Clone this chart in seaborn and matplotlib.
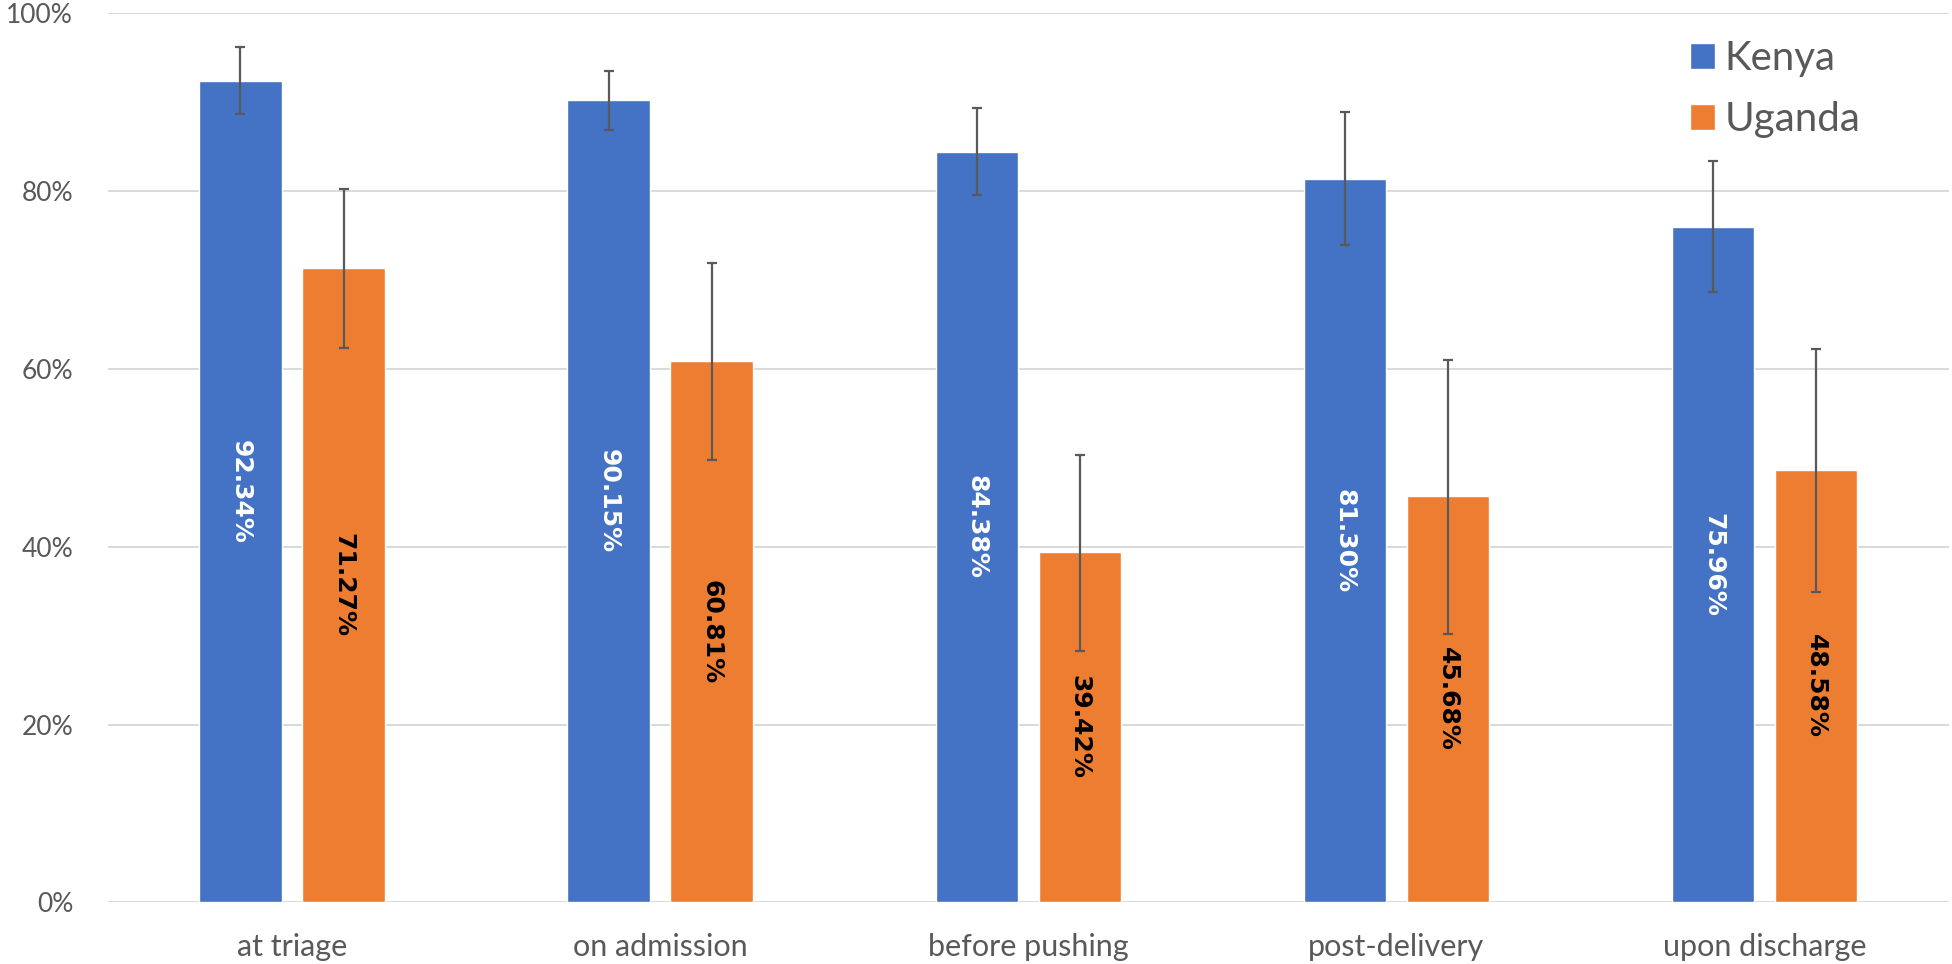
import matplotlib
matplotlib.use("Agg")
import matplotlib.pyplot as plt
import seaborn as sns
import pandas as pd
import numpy as np

stages = ["at triage", "on admission", "before pushing", "post-delivery", "upon discharge"]
countries = ["Kenya", "Uganda"]

kenya = [92.34, 90.15, 84.38, 81.30, 75.96]
kenya_lo = [88.6, 86.8, 79.5, 73.9, 68.65]
kenya_hi = [96.1, 93.5, 89.3, 88.8, 83.3]

uganda = [71.27, 60.81, 39.42, 45.68, 48.58]
uganda_lo = [62.3, 49.7, 28.3, 30.2, 34.9]
uganda_hi = [80.2, 71.9, 50.3, 61.0, 62.2]

colors = {"Kenya": "#4472C4", "Uganda": "#ED7D31"}
label_colors = {"Kenya": "white", "Uganda": "black"}

df = pd.DataFrame({
    "stage": stages * 2,
    "country": ["Kenya"] * 5 + ["Uganda"] * 5,
    "value": kenya + uganda,
})

sns.set_style("white")
plt.rcParams["font.family"] = ["Lato", "DejaVu Sans"]

fig = plt.figure(figsize=(19.52, 9.64), dpi=100)
ax = fig.add_axes([0.0553, 0.0638, 0.943, 0.923])

sns.barplot(data=df, x="stage", y="value", hue="country", order=stages,
            hue_order=countries, palette=colors, width=0.56, gap=0.2,
            errorbar=None, saturation=1, ax=ax, zorder=2)

lows = {"Kenya": kenya_lo, "Uganda": uganda_lo}
highs = {"Kenya": kenya_hi, "Uganda": uganda_hi}
vals = {"Kenya": kenya, "Uganda": uganda}

# asymmetric CIs, drawn on top of the seaborn bars
for cont, name in zip(ax.containers, countries):
    xs = [p.get_x() + p.get_width() / 2 for p in cont.patches]
    v = np.array(vals[name])
    err = [v - np.array(lows[name]), np.array(highs[name]) - v]
    ax.errorbar(xs, v, yerr=err, fmt="none", ecolor="#595959", elinewidth=1.6,
                capsize=3.5, capthick=1.6, zorder=3)
    ax.bar_label(cont, labels=[f"{x:.2f}%" for x in vals[name]], label_type="center",
                 rotation=-90, color=label_colors[name], fontsize=18,
                 fontweight="bold", fontfamily="DejaVu Sans")

ax.set_ylim(0, 100)
ax.set_yticks(range(0, 101, 20))
ax.set_yticklabels([f"{t}%" for t in range(0, 101, 20)])
ax.set_xlim(-0.5, 4.5)
ax.grid(axis="y", color="#D9D9D9", linewidth=1.4, zorder=0)
ax.set_axisbelow(True)
for s in ax.spines.values():
    s.set_visible(False)
ax.tick_params(axis="both", length=0, colors="#595959")
ax.tick_params(axis="y", labelsize=19, pad=25)
ax.tick_params(axis="x", labelsize=22, pad=22)
ax.set_xlabel("")
ax.set_ylabel("")

ax.legend(loc="upper left", bbox_to_anchor=(0.84, 1.01), frameon=False,
          fontsize=29, handlelength=0.6, handleheight=0.6, handletextpad=0.25,
          labelspacing=0.6, labelcolor="#595959")

fig.savefig("out.png", dpi=100)
